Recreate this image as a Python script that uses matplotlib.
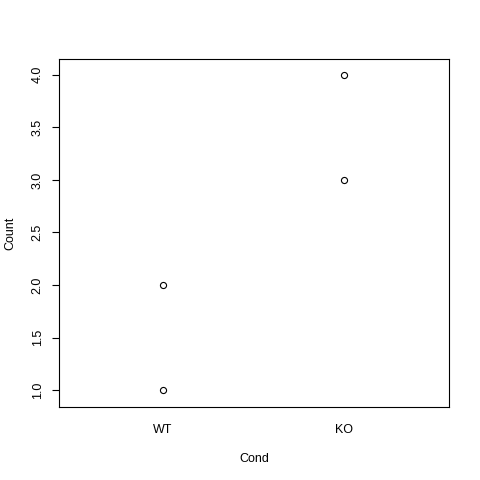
import matplotlib
matplotlib.use("Agg")
import matplotlib.pyplot as plt

# values
cond = ["WT", "WT", "KO", "KO"]
count = [1, 2, 3, 4]
levels = ["WT", "KO"]
y_ticks = [1.0, 1.5, 2.0, 2.5, 3.0, 3.5, 4.0]

plt.rcParams["font.family"] = ["Liberation Sans", "DejaVu Sans"]

fig = plt.figure(figsize=(4.8, 4.8), dpi=100)
ax = fig.add_axes([59 / 480, 73 / 480, 390 / 480, 348 / 480])

xpos = [levels.index(c) + 1 for c in cond]
ax.plot(xpos, count, linestyle="none", marker="o", markersize=4.4,
        markerfacecolor="none", markeredgecolor="black", markeredgewidth=0.8)

ax.set_xlim(0.425, 2.58)
ax.set_ylim(0.84, 4.15)
ax.set_xticks([1, 2])
ax.set_xticklabels(levels, fontsize=9)
ax.set_yticks(y_ticks)
ax.set_yticklabels([f"{v:.1f}" for v in y_ticks], fontsize=9, rotation=90, va="center")
ax.tick_params(axis="x", length=0, pad=12)
ax.tick_params(axis="y", length=5, width=0.8, pad=6)
for s in ax.spines.values():
    s.set_linewidth(0.8)

ax.set_xlabel("Cond", fontsize=9)
ax.set_ylabel("Count", fontsize=9)
ax.xaxis.set_label_coords(0.5, -46 / 348, transform=ax.transAxes)
ax.yaxis.set_label_coords(-43 / 390, 0.5, transform=ax.transAxes)

fig.savefig("out.png", dpi=100)
